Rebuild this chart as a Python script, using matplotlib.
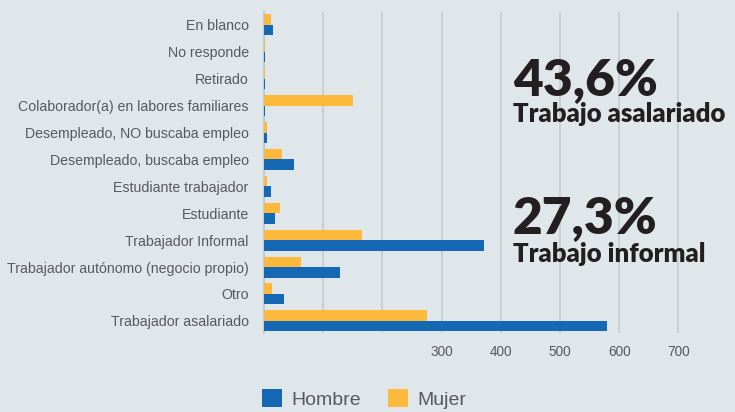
import matplotlib
matplotlib.use("Agg")
import matplotlib.pyplot as plt
import numpy as np
from matplotlib.patches import Patch

categories = ["En blanco", "No responde", "Retirado", "Colaborador(a) en labores familiares",
              "Desempleado, NO buscaba empleo", "Desempleado, buscaba empleo",
              "Estudiante trabajador", "Estudiante", "Trabajador Informal",
              "Trabajador autónomo (negocio propio)", "Otro", "Trabajador asalariado"]
hombre = [15, 1, 1, 1, 4.5, 50, 11, 19, 372, 128, 33, 580]
mujer = [12, 1, 1, 150, 5.5, 30, 4.5, 27, 166, 62, 13, 275]
xticks = [100, 200, 300, 400, 500, 600, 700]
xticklabels = ["", "", "300", "400", "500", "600", "700"]
big1, sub1 = "43,6%", "Trabajo asalariado"
big2, sub2 = "27,3%", "Trabajo informal"

BG = "#dfe7ea"
C_H = "#1569b4"
C_M = "#fdb93c"
TXT = "#58595b"

plt.rcParams['font.family'] = ['Liberation Sans', 'DejaVu Sans']

fig = plt.figure(figsize=(7.35, 4.12), dpi=100, facecolor=BG)
ax = fig.add_axes([264/735, 1-333/412, (714-264)/735, (333-12)/412])
ax.set_facecolor(BG)

y = np.arange(len(categories))
h = 0.39
ax.barh(y - h/2, mujer, height=h, color=C_M, zorder=3)
ax.barh(y + h/2, hombre, height=h, color=C_H, zorder=3)

ax.set_ylim(len(categories) - 1 + 0.45, -0.48)
ax.set_xlim(0, 760)
ax.set_yticks(y)
ax.set_yticklabels(categories, fontsize=10.2, color=TXT)
ax.set_xticks(xticks)
ax.set_xticklabels(xticklabels, fontsize=9.8, color=TXT)
ax.tick_params(axis='y', length=0, pad=11)
ax.tick_params(axis='x', length=0, pad=9)
ax.grid(axis='x', color="#c9d0d3", linewidth=1.5, zorder=0)
for s in ['top', 'right', 'bottom']:
    ax.spines[s].set_visible(False)
ax.spines['left'].set_color("#c3cacd")
ax.spines['left'].set_linewidth(1.5)

DARK = "#231f20"
fam = ['Lato', 'DejaVu Sans']
fig.text(513/735, 1-95/412, big1, fontsize=37, fontweight='heavy', color=DARK, family=fam, va='baseline')
fig.text(513/735, 1-122/412, sub1, fontsize=18.5, fontweight='heavy', color=DARK, family=fam, va='baseline')
fig.text(513/735, 1-233/412, big2, fontsize=37, fontweight='heavy', color=DARK, family=fam, va='baseline')
fig.text(513/735, 1-262/412, sub2, fontsize=18.5, fontweight='heavy', color=DARK, family=fam, va='baseline')

handles = [Patch(facecolor=C_H, label="Hombre"), Patch(facecolor=C_M, label="Mujer")]
leg = fig.legend(handles=handles, loc='center', bbox_to_anchor=(364/735, 1-399/412), ncol=2,
                 frameon=False, fontsize=14, handlelength=1.05, handleheight=1.05,
                 handletextpad=0.45, columnspacing=1.4, labelcolor=TXT)

fig.savefig("out.png", dpi=100, facecolor=BG)
